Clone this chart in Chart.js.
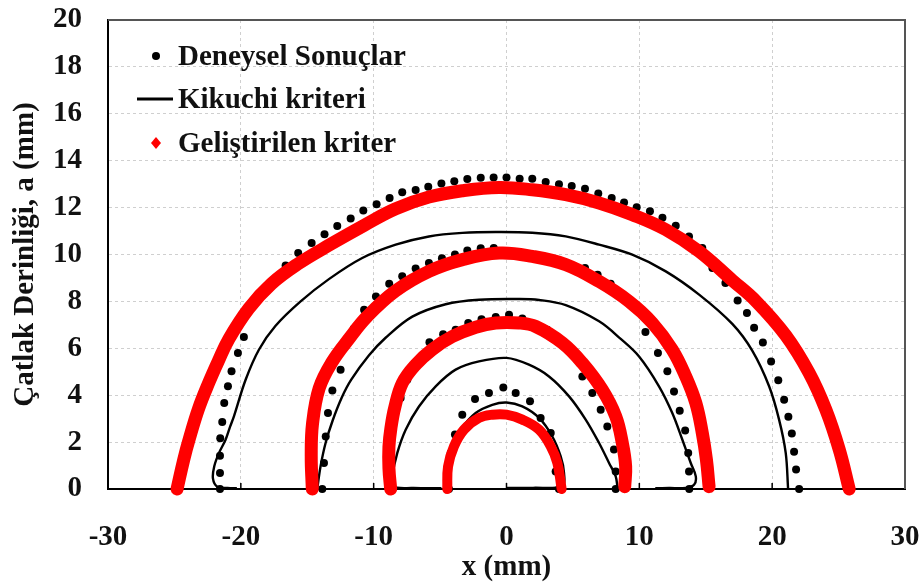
<!DOCTYPE html>
<html>
<head>
<meta charset="utf-8">
<title>Çatlak Derinliği</title>
<script src="https://cdn.jsdelivr.net/npm/chart.js@4.4.0/dist/chart.umd.min.js"></script>
<style>
  html, body { margin: 0; padding: 0; background: #fff; }
  #wrap { width: 920px; height: 583px; position: relative; }
</style>
</head>
<body>
<div id="wrap"><canvas id="crackChart"></canvas></div>
<script>
// eksen etiketleri
const xTicks = [-30, -20, -10, 0, 10, 20, 30];
const yMin = 0, yMax = 20, yStep = 2;
const seriesNames = ["Deneysel Sonuçlar", "Kikuchi kriteri", "Geliştirilen kriter"];

// Deneysel sonuçlar (siyah noktalar), dıştan içe 4 çatlak cephesi
const expArc1 = [[-21.57,0],[-21.57,0.68],[-21.57,1.42],[-21.55,2.16],[-21.4,2.86],[-21.25,3.67],[-20.97,4.38],[-20.7,5.02],[-20.22,5.8],[-19.77,6.48],[-17.68,8.85],[-16.63,9.53],[-15.68,10.06],[-14.67,10.49],[-13.7,10.86],[-12.74,11.22],[-11.73,11.54],[-10.78,11.88],[-9.78,12.14],[-8.8,12.41],[-7.85,12.65],[-6.84,12.75],[-5.89,12.89],[-4.9,13.03],[-3.93,13.12],[-2.95,13.22],[-1.94,13.27],[-0.97,13.28],[0,13.28],[0.99,13.23],[1.94,13.23],[2.95,13.09],[3.95,13.0],[4.91,12.92],[5.91,12.8],[6.91,12.6],[7.92,12.41],[8.85,12.22],[9.8,12.02],[10.8,11.84],[11.74,11.57],[12.74,11.23],[13.74,10.77],[14.74,10.28],[15.5,9.42],[16.48,8.78],[17.4,8.04],[18.1,7.51],[18.64,6.88],[19.3,6.25],[19.92,5.44],[20.46,4.64],[20.9,3.81],[21.22,3.08],[21.48,2.37],[21.65,1.59],[21.8,0.83],[22.03,0]];
const expArc2 = [[-13.87,0],[-13.74,1.11],[-13.61,2.24],[-13.44,3.24],[-13.11,4.2],[-12.49,5.09],[-11.5,6.83],[-10.72,7.64],[-9.83,8.21],[-8.83,8.75],[-7.85,9.07],[-6.84,9.4],[-5.84,9.64],[-4.86,9.84],[-3.88,10.0],[-2.95,10.17],[-1.94,10.27],[-0.96,10.28],[5.91,9.42],[6.86,9.14],[7.84,8.75],[8.8,8.22],[10.46,6.7],[11.4,5.8],[12.11,5.02],[12.61,4.16],[13.04,3.34],[13.45,2.5],[13.68,1.54],[13.74,0.75],[13.76,0]];
const expArc3 = [[-8.72,0],[-7.97,3.88],[-7.47,4.66],[-6.72,5.48],[-5.8,6.26],[-4.77,6.6],[-3.83,6.79],[-2.88,7.08],[-1.88,7.24],[-0.81,7.34],[0.19,7.43],[1.19,7.27],[3.07,6.79],[5.71,4.8],[6.46,4.09],[7.09,3.38],[7.59,2.67],[8.09,1.68],[8.22,0.75],[8.22,0]];
const expArc4 = [[-4.33,0],[-4.46,0.82],[-4.2,1.54],[-3.88,2.32],[-3.33,3.17],[-2.37,3.84],[-1.32,4.09],[-0.24,4.33],[0.69,4.09],[1.77,3.74],[2.57,3.03],[3.33,2.39],[3.7,0.75],[3.95,0]];

// Kikuchi kriteri (siyah çizgi)
const kikArc1 = [[-20.3,0.03],[-21.0,0.04],[-21.78,0.1],[-22.1,0.45],[-22.0,0.97],[-21.65,1.53],[-21.15,2.1],[-20.8,2.67],[-20.52,3.1],[-19.64,4.66],[-18.64,5.94],[-17.4,6.95],[-15.5,8.0],[-13.37,8.95],[-10.86,9.85],[-8.34,10.42],[-5.84,10.77],[-3.32,10.92],[-0.81,10.96],[1.94,10.93],[4.46,10.77],[6.97,10.42],[9.47,9.99],[11.99,9.28],[14.5,8.29],[17.0,7.04],[18.5,5.9],[19.77,4.38],[20.52,2.96],[21.02,1.54],[21.2,0]];
const kikArc2 = [[-14.25,0],[-14.0,0.96],[-13.62,1.96],[-13.1,2.9],[-12.4,3.9],[-11.7,4.65],[-10.35,5.7],[-9.1,6.45],[-7.09,7.35],[-4.58,7.88],[-2.07,8.07],[0.94,8.1],[2.45,8.06],[4.46,7.84],[6.97,7.15],[8.6,6.4],[9.98,5.65],[11.48,4.38],[12.48,3.24],[13.24,2.1],[13.87,1.11],[14.25,0.54],[14.12,0.18],[13.5,0.05],[12.23,0.04],[11.2,0.03]];
const kikArc3 = [[-4.9,0.03],[-7.0,0.04],[-8.6,0.1],[-8.6,0.54],[-8.22,1.54],[-7.59,2.53],[-6.59,3.52],[-5.33,4.38],[-3.83,5.09],[-2.07,5.44],[0,5.59],[1.69,5.3],[3.2,4.8],[4.71,3.95],[5.96,2.96],[6.97,1.96],[7.72,1.11],[8.22,0.54],[8.35,0.1]];
const kikArc4 = [[-4.7,0.1],[-4.58,0.82],[-4.08,1.82],[-3.45,2.53],[-2.32,3.24],[-1.07,3.59],[0,3.69],[1.19,3.52],[2.45,3.03],[3.45,2.24],[4.08,1.39],[4.33,0.68],[4.2,0.1],[2.0,0.05],[0,0.04]];

// Geliştirilen kriter (kırmızı)
const devArc1 = [[-24.8,0],[-24.3,1.25],[-23.9,2.1],[-23.2,3.4],[-22.4,4.55],[-21.7,5.45],[-20.9,6.4],[-19.4,7.7],[-17.7,8.75],[-15.7,9.6],[-13.2,10.45],[-10.7,11.25],[-8.34,11.95],[-5.84,12.45],[-3.32,12.72],[-0.56,12.86],[1.94,12.76],[4.46,12.55],[6.97,12.2],[9.47,11.7],[11.99,11.06],[14.5,10.13],[17.0,8.9],[18.8,8.0],[21.02,6.55],[22.78,4.95],[24.04,3.38],[25.05,1.68],[25.8,0]];
const devArc2 = [[-14.62,0],[-14.7,1.4],[-14.6,2.8],[-14.1,4.3],[-13.15,5.4],[-11.8,6.45],[-10.5,7.35],[-8.34,8.45],[-5.84,9.28],[-3.32,9.78],[-0.56,10.06],[1.94,9.92],[4.46,9.57],[6.97,8.85],[9.22,8.0],[10.98,7.08],[12.48,5.94],[13.49,4.8],[14.25,3.67],[14.74,2.39],[15.05,1.25],[15.25,0.1]];
const devArc3 = [[-8.72,0],[-8.85,0.9],[-8.85,1.8],[-8.7,2.6],[-8.4,3.5],[-7.84,4.52],[-6.84,5.3],[-5.59,5.95],[-4.08,6.5],[-2.32,6.9],[-0.81,7.08],[0.94,7.08],[2.2,6.93],[4.2,6.23],[5.71,5.37],[7.21,4.23],[8.22,3.1],[8.72,1.96],[8.97,0.96],[8.9,0.1]];
const devArc4 = [[-4.46,0],[-4.4,0.96],[-3.95,1.82],[-3.2,2.53],[-2.07,3.03],[-1.07,3.17],[0,3.17],[1.19,2.96],[2.45,2.53],[3.33,1.82],[3.83,1.11],[4.15,0]];

const FONT = "'Liberation Serif', 'Times New Roman', serif";
const toPts = arr => arr.map(p => ({ x: p[0], y: p[1] }));

const datasets = [];
[expArc1, expArc2, expArc3, expArc4].forEach(arc => datasets.push({
  label: seriesNames[0], data: toPts(arc), showLine: false, order: 3, clip: false,
  pointRadius: 4, pointBackgroundColor: "#000", pointBorderWidth: 0
}));
[kikArc1, kikArc2, kikArc3, kikArc4].forEach(arc => datasets.push({
  label: seriesNames[1], data: toPts(arc), showLine: true, order: 2,
  borderColor: "#000", borderWidth: 2.4, tension: 0.35, pointRadius: 0
}));
[devArc1, devArc2, devArc3, devArc4].forEach((arc, i) => datasets.push({
  label: seriesNames[2], data: toPts(arc), showLine: true, order: 1, clip: false,
  borderColor: "#ff0000", borderWidth: i === 3 ? 10 : 13, tension: 0.4, pointRadius: 0,
  borderCapStyle: "round", borderJoinStyle: "round"
}));

// üst/sağ çerçeve ve x eksenindeki iç tik çizgileri
const framePlugin = {
  id: "framePlugin",
  beforeDatasetsDraw(chart) {
    const { ctx, chartArea: a, scales } = chart;
    ctx.save();
    ctx.strokeStyle = "#555";
    ctx.lineWidth = 2;
    ctx.beginPath();
    ctx.moveTo(a.left, a.top);
    ctx.lineTo(a.right, a.top);
    ctx.lineTo(a.right, a.bottom);
    ctx.stroke();
    ctx.strokeStyle = "#000";
    ctx.lineWidth = 1.5;
    ctx.beginPath();
    xTicks.slice(1, -1).forEach(v => {
      const px = scales.x.getPixelForValue(v);
      ctx.moveTo(px, a.bottom);
      ctx.lineTo(px, a.bottom - 6);
    });
    ctx.stroke();
    ctx.restore();
  }
};

// grafik içindeki lejant
const legendPlugin = {
  id: "legendPlugin",
  afterDatasetsDraw(chart) {
    const { ctx, chartArea: a } = chart;
    const mx = a.left + 48, tx = a.left + 70;
    const rows = [a.top + 36, a.top + 79, a.top + 123];
    const baselines = [a.top + 45, a.top + 88, a.top + 132];
    ctx.save();
    ctx.fillStyle = "#000";
    ctx.beginPath();
    ctx.arc(mx, rows[0], 4, 0, Math.PI * 2);
    ctx.fill();
    ctx.strokeStyle = "#000";
    ctx.lineWidth = 3;
    ctx.beginPath();
    ctx.moveTo(a.left + 29, rows[1]);
    ctx.lineTo(a.left + 65, rows[1]);
    ctx.stroke();
    ctx.fillStyle = "#ff0000";
    ctx.beginPath();
    ctx.moveTo(mx, rows[2] - 6);
    ctx.lineTo(mx + 5, rows[2]);
    ctx.lineTo(mx, rows[2] + 6);
    ctx.lineTo(mx - 5, rows[2]);
    ctx.closePath();
    ctx.fill();
    ctx.fillStyle = "#111";
    ctx.font = "bold 29px " + FONT;
    ctx.textBaseline = "alphabetic";
    ctx.textAlign = "left";
    seriesNames.forEach((name, i) => ctx.fillText(name, tx, baselines[i]));
    ctx.restore();
  }
};

new Chart(document.getElementById("crackChart"), {
  type: "scatter",
  data: { datasets },
  plugins: [framePlugin, legendPlugin],
  options: {
    responsive: true,
    maintainAspectRatio: false,
    animation: false,
    layout: { padding: { left: 0, right: 15, top: 20, bottom: 0 } },
    plugins: { legend: { display: false }, tooltip: { enabled: false } },
    scales: {
      x: {
        type: "linear", min: xTicks[0], max: xTicks[xTicks.length - 1],
        afterBuildTicks: s => { s.ticks = xTicks.map(v => ({ value: v })); },
        afterFit: s => { s.height = 94; s.paddingLeft = 0; s.paddingRight = 0; },
        grid: { color: "#cfcfcf", lineWidth: 1, drawTicks: false },
        border: { color: "#000", width: 2, dash: [3, 3] },
        ticks: { padding: 31, color: "#111", maxRotation: 0, font: { family: FONT, size: 29, weight: "bold" } },
        title: { display: true, text: "x (mm)", color: "#111", padding: { top: 0, bottom: 0 },
                 font: { family: FONT, size: 29, weight: "bold", lineHeight: 1.05 } }
      },
      y: {
        type: "linear", min: yMin, max: yMax,
        ticks: { stepSize: yStep, padding: 26, color: "#111", font: { family: FONT, size: 29, weight: "bold" } },
        afterFit: s => { s.width = 108; s.paddingTop = 0; s.paddingBottom = 0; },
        grid: { color: "#cfcfcf", lineWidth: 1, drawTicks: false },
        border: { color: "#000", width: 2, dash: [3, 3] },
        title: { display: true, text: "Çatlak Derinliği, a (mm)", color: "#111", padding: { top: 8, bottom: 0 },
                 font: { family: FONT, size: 29, weight: "bold" } }
      }
    }
  }
});
</script>
</body>
</html>
